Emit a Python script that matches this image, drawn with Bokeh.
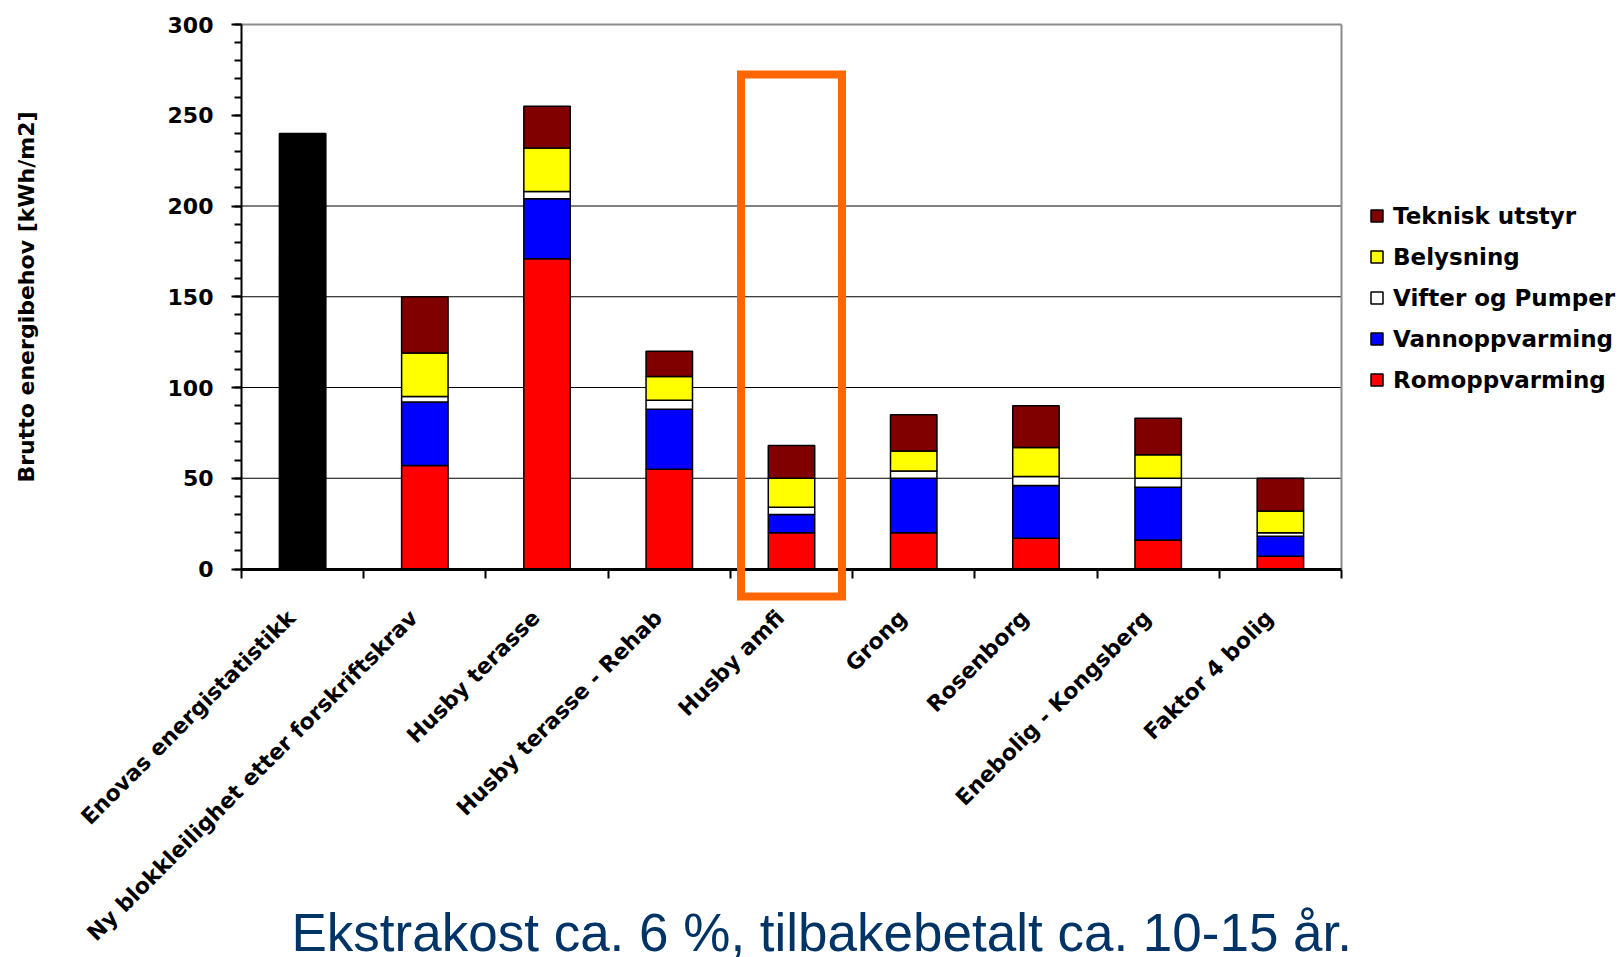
import math
from bokeh.plotting import figure
from bokeh.models import (Range1d, LinearAxis, FixedTicker, SingleIntervalTicker, CustomJSTickFormatter,
                          Legend, LegendItem, Label, BoxAnnotation, ColumnDataSource)
from bokeh.embed import file_html
from bokeh.resources import INLINE

# ---------------- data ----------------
categories = ["Enovas energistatistikk", "Ny blokkleilighet etter forskriftskrav", "Husby terasse",
              "Husby terasse - Rehab", "Husby amfi", "Grong", "Rosenborg",
              "Enebolig - Kongsberg", "Faktor 4 bolig"]
statistikk_total = [240, 0, 0, 0, 0, 0, 0, 0, 0]
romoppvarming = [0, 57, 171, 55, 20, 20, 17, 16, 7]
vannoppvarming = [0, 35, 33, 33, 10, 30, 29, 29, 11]
vifter_og_pumper = [0, 3, 4, 5, 4, 4, 5, 5, 2]
belysning = [0, 24, 24, 13, 16, 11, 16, 13, 12]
teknisk_utstyr = [0, 31, 23, 14, 18, 20, 23, 20, 18]
series_names = ["Romoppvarming", "Vannoppvarming", "Vifter og Pumper", "Belysning", "Teknisk utstyr"]
series_values = [romoppvarming, vannoppvarming, vifter_og_pumper, belysning, teknisk_utstyr]
series_colors = ["#FF0000", "#0000FF", "#FFFFFF", "#FFFF00", "#800000"]
y_max = 300
y_ticks_major = 50
grid_values = [50, 100, 150, 200]
highlight = "Husby amfi"
y_label = "Brutto energibehov [kWh/m2]"
caption = "Ekstrakost ca. 6 %, tilbakebetalt ca. 10-15 år."

n = len(categories)
centers = [i + 0.5 for i in range(n)]
boundaries = list(range(n + 1))

# ---------------- layout (pixels) ----------------
W, H = 1624, 957
AX_LEFT, AX_RIGHT = 241, 1341      # pixel position of the value axis and of the right border
AX_TOP, AX_ZERO = 24, 568.5        # pixel position of y_max and of 0
FONT = "DejaVu Sans"
u = (AX_RIGHT - AX_LEFT) / n
v = (AX_ZERO - AX_TOP) / y_max
x_rng = Range1d(-AX_LEFT / u, n + (W - AX_RIGHT) / u)
y_rng = Range1d(-(H - AX_ZERO) / v, y_max + AX_TOP / v)

p = figure(width=W, height=H, x_range=x_rng, y_range=y_rng,
           x_axis_type=None, y_axis_type=None,
           output_backend="svg", toolbar_location=None, min_border=0)
p.outline_line_color = None
p.background_fill_color = "white"
p.border_fill_color = "white"

# ---------------- grid lines and plot border (limited to the plot area) ----------------
k = len(grid_values)
p.segment(x0=[0] * k, y0=grid_values, x1=[n] * k, y1=grid_values,
          line_color="black", line_width=1, level="underlay")
p.segment(x0=[0, n], y0=[y_max, 0], x1=[n, n], y1=[y_max, y_max],
          line_color="#8c8c8c", line_width=2, level="underlay")

# ---------------- bars ----------------
rows = [i for i in range(n) if sum(s[i] for s in series_values) > 0]
keys = ["s%d" % j for j in range(len(series_values))]
data = {"x": [centers[i] for i in rows], "name": [categories[i] for i in rows]}
for key, vals in zip(keys, series_values):
    data[key] = [vals[i] for i in rows]
src = ColumnDataSource(data)
renderers = p.vbar_stack(keys, x="x", width=0.38, fill_color=series_colors,
                         line_color="black", line_width=1.5, source=src)

tot_rows = [i for i in range(n) if statistikk_total[i] > 0]
p.vbar(x=[centers[i] for i in tot_rows], top=[statistikk_total[i] for i in tot_rows],
       width=0.38, fill_color="black", line_color="black", line_width=1.5)

# ---------------- axes ----------------
label_shift = 0.09   # rotated labels end slightly left of the slot centre
xaxis = LinearAxis(fixed_location=0, bounds=(0, n),
                   ticker=FixedTicker(ticks=[c - label_shift for c in centers], minor_ticks=boundaries),
                   formatter=CustomJSTickFormatter(args=dict(names=categories),
                                                   code="return names[Math.floor(tick)] || ''"),
                   axis_line_color="black", axis_line_width=3,
                   major_tick_line_color=None,
                   minor_tick_line_color="black", minor_tick_line_width=2,
                   minor_tick_in=0, minor_tick_out=9,
                   major_label_orientation=math.pi / 4,
                   major_label_standoff=36,
                   major_label_text_font=FONT, major_label_text_font_style="bold",
                   major_label_text_font_size="22px", major_label_text_color="black")
p.add_layout(xaxis, "below")

yaxis = LinearAxis(fixed_location=0, bounds=(0, y_max),
                   ticker=SingleIntervalTicker(interval=y_ticks_major, num_minor_ticks=5),
                   axis_line_color="black", axis_line_width=2,
                   major_tick_line_color="black", major_tick_line_width=2,
                   major_tick_in=0, major_tick_out=10,
                   minor_tick_line_color="black", minor_tick_line_width=2,
                   minor_tick_in=0, minor_tick_out=7,
                   major_label_text_font=FONT, major_label_text_font_style="bold",
                   major_label_text_font_size="22px", major_label_text_color="black",
                   major_label_standoff=18,
                   axis_label=y_label, axis_label_text_font=FONT,
                   axis_label_text_font_style="bold", axis_label_text_font_size="22px",
                   axis_label_text_color="black", axis_label_standoff=126)
p.add_layout(yaxis, "left")

# ---------------- highlight box ----------------
hi = centers[categories.index(highlight)]
box = BoxAnnotation(left=hi - 0.413, right=hi + 0.413, top=272.5, bottom=-15.2,
                    fill_color=None, fill_alpha=0, line_color="#FF6600", line_alpha=1.0,
                    line_width=8, line_join="miter", level="overlay")
p.add_layout(box)

# ---------------- legend ----------------
items = [LegendItem(label=name, renderers=[r])
         for name, r in reversed(list(zip(series_names, renderers)))]
legend = Legend(items=items, location=(1369, 564), orientation="vertical",
                glyph_width=15, glyph_height=15, label_standoff=9, spacing=14,
                label_height=27, padding=0, margin=0,
                border_line_color=None, background_fill_alpha=0,
                label_text_font=FONT, label_text_font_style="bold",
                label_text_font_size="23px", label_text_color="black")
p.add_layout(legend)

# ---------------- caption ----------------
cap = Label(x=291, y=25, x_units="screen", y_units="screen", text=caption,
            text_font="Liberation Sans", text_font_size="53px", text_color="#003366",
            text_align="left", text_baseline="alphabetic")
p.add_layout(cap)

open("out.html", "w").write(file_html(p, INLINE))
